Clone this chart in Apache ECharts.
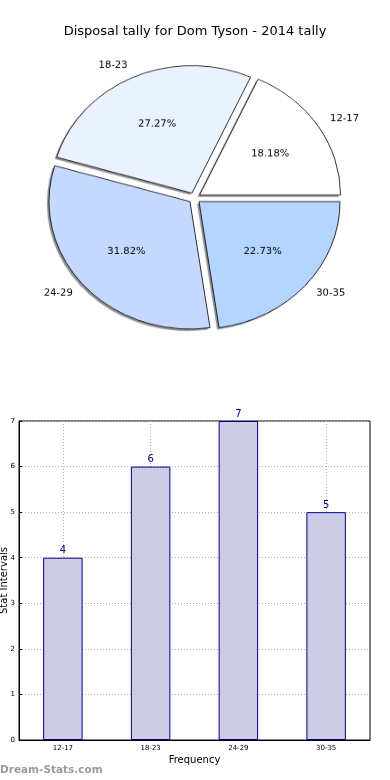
<!DOCTYPE html>
<html><head><meta charset="utf-8">
<script src="https://cdn.jsdelivr.net/npm/echarts@6/dist/echarts.min.js"></script>
<style>
html,body{margin:0;padding:0;background:#fff}
#wrap{position:relative;width:390px;height:780px}
#c{position:absolute;left:0;top:0;width:390px;height:780px}
#p{position:absolute;left:0;top:0;width:390px;height:400px;transform-origin:194.5px 198px;transform:scaleY(0.904)}
</style>
</head><body><div id="wrap"><div id="c"></div><div id="p"></div></div>
<script>
const categories = ['12-17', '18-23', '24-29', '30-35'];
const counts = [4, 6, 7, 5];
const yMin = 0, yMax = 7, yStep = 1;
const titleText = 'Disposal tally for Dom Tyson - 2014 tally';
const xName = 'Frequency';
const yName = 'Stat Intervals';
const watermark = 'Dream-Stats.com';

const pieColors = ['#FFFFFF', '#EAF1FF', '#C5D8FF', '#B4D5FF'];
const FONT = 'DejaVu Sans';
const R = 141, CX = 194.5, CY = 198, OFF = 6;

const chart = echarts.init(document.getElementById('c'), null, {renderer: 'canvas'});
const pie = echarts.init(document.getElementById('p'), null, {renderer: 'canvas'});

const pieBase = {
  type: 'pie', center: [CX, CY], startAngle: 0, clockwise: false,
  selectedMode: 'multiple', selectedOffset: OFF, animation: false,
  emphasis: {disabled: true}, avoidLabelOverlap: false
};

pie.setOption({
  animation: false,
  series: [
    Object.assign({}, pieBase, {
      radius: [0, R], silent: true, z: 1,
      label: {show: false}, labelLine: {show: false},
      itemStyle: {borderWidth: 0, shadowColor: 'rgba(0,0,0,0.45)', shadowBlur: 1, shadowOffsetX: -2, shadowOffsetY: 2},
      data: categories.map((c, i) => ({name: c, value: counts[i], selected: true, itemStyle: {color: pieColors[i]}, select: {itemStyle: {color: pieColors[i], borderWidth: 0}}}))
    }),
    Object.assign({}, pieBase, {
      radius: [0, R], z: 2,
      label: {show: true, position: 'outside', formatter: '{b}', fontFamily: FONT, fontSize: 10, color: '#000', distanceToLabelLine: 0, alignTo: 'none'},
      labelLine: {show: false, length: R * 0.1, length2: 0},
      itemStyle: {borderColor: '#000', borderWidth: 0.8},
      data: categories.map((c, i) => ({name: c, value: counts[i], selected: true, itemStyle: {color: pieColors[i]}, select: {itemStyle: {color: pieColors[i], borderColor: '#000', borderWidth: 0.8}}}))
    }),
    Object.assign({}, pieBase, {
      radius: [0, R * 1.15], silent: true, z: 5,
      itemStyle: {color: 'rgba(0,0,0,0)', borderWidth: 0},
      label: {show: true, position: 'inside', formatter: '{d}%', fontFamily: FONT, fontSize: 10, color: '#000'},
      labelLine: {show: false},
      data: categories.map((c, i) => ({name: c, value: counts[i], selected: true, select: {itemStyle: {color: 'rgba(0,0,0,0)', borderWidth: 0}}}))
    })
  ]
});

chart.setOption({
  animation: false,
  textStyle: {fontFamily: FONT},
  title: [
    {text: titleText, left: 'center', top: 20, textStyle: {fontFamily: FONT, fontSize: 13, fontWeight: 'normal', color: '#000'}},
    {text: watermark, left: -5, top: 760, textStyle: {fontFamily: FONT, fontSize: 10.5, fontWeight: 'bold', color: '#9a9a9a'}}
  ],
  grid: {left: 19, right: 20, top: 421, bottom: 40, show: true, borderColor: '#000', borderWidth: 1, containLabel: false, outerBoundsMode: 'none'},
  xAxis: {
    type: 'category', data: categories,
    name: xName, nameLocation: 'middle', nameGap: 15,
    nameTextStyle: {fontFamily: FONT, fontSize: 10, color: '#000'},
    axisLine: {lineStyle: {color: '#000'}},
    axisTick: {show: true, alignWithLabel: true, inside: true, length: 3, lineStyle: {color: '#000'}},
    axisLabel: {fontFamily: FONT, fontSize: 7, color: '#000', margin: 5},
    splitLine: {show: true, alignWithLabel: true, lineStyle: {color: '#b0b0b0', type: [1, 2]}}
  },
  yAxis: {
    type: 'value', min: yMin, max: yMax, interval: yStep,
    name: yName, nameLocation: 'middle', nameGap: 10, nameMoveOverlap: false,
    nameTextStyle: {fontFamily: FONT, fontSize: 10, color: '#000'},
    axisLine: {show: true, lineStyle: {color: '#000'}},
    axisTick: {show: true, inside: true, length: 3, lineStyle: {color: '#000'}},
    axisLabel: {fontFamily: FONT, fontSize: 7, color: '#000', margin: 4},
    splitLine: {show: true, lineStyle: {color: '#b0b0b0', type: [1, 2]}}
  },
  series: [
    {
      type: 'bar', data: counts, barWidth: '45%',
      itemStyle: {color: '#CCCCE4', borderColor: '#00008B', borderWidth: 1},
      label: {show: true, position: 'top', distance: 2, fontFamily: FONT, fontSize: 10, color: '#00008B'},
      emphasis: {disabled: true}
    }
  ]
});
</script></body></html>
